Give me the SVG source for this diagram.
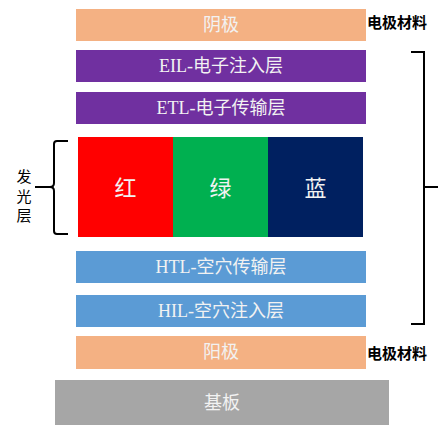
<svg xmlns="http://www.w3.org/2000/svg" width="438" height="425" viewBox="0 0 438 425">
<style>
.lt{font-family:"Liberation Serif","Noto Sans CJK SC",serif;font-size:18px;fill:#F2F2F2;text-anchor:middle;dominant-baseline:central}
.big{font-size:22px}
.side{font-family:"Noto Sans CJK SC",sans-serif;font-size:15px;font-weight:bold;fill:#000;dominant-baseline:central}
.vt{font-family:"Noto Sans CJK SC",sans-serif;font-size:15px;fill:#000;text-anchor:middle;dominant-baseline:central}
.br{fill:none;stroke:#000;stroke-width:2}
</style>
<rect width="438" height="425" fill="#fff"/>
<g id="cathode"><rect x="76" y="9" width="290" height="32" fill="#F4B183"/><text class="lt" x="221" y="25">阴极</text></g>
<g id="eil"><rect x="76" y="50" width="290" height="32" fill="#7030A0"/><text class="lt" x="221" y="66">EIL-电子注入层</text></g>
<g id="etl"><rect x="76" y="92" width="290" height="32" fill="#7030A0"/><text class="lt" x="221" y="108">ETL-电子传输层</text></g>
<g id="red"><rect x="78" y="137" width="95" height="100" fill="#FF0000"/><text class="lt big" x="125.5" y="188">红</text></g>
<g id="green"><rect x="173" y="137" width="95" height="100" fill="#00B050"/><text class="lt big" x="220.5" y="188">绿</text></g>
<g id="blue"><rect x="268" y="137" width="95" height="100" fill="#002060"/><text class="lt big" x="315.5" y="188">蓝</text></g>
<g id="htl"><rect x="76" y="251" width="290" height="32" fill="#5B9BD5"/><text class="lt" x="221" y="267">HTL-空穴传输层</text></g>
<g id="hil"><rect x="76" y="295" width="290" height="32" fill="#5B9BD5"/><text class="lt" x="221" y="311">HIL-空穴注入层</text></g>
<g id="anode"><rect x="76" y="336" width="290" height="33" fill="#F4B183"/><text class="lt" x="221" y="352">阳极</text></g>
<g id="substrate"><rect x="55" y="380" width="334" height="45" fill="#A6A6A6"/><text class="lt" x="222" y="403">基板</text></g>
<g id="label-top"><text class="side" x="367" y="21">电极材料</text></g>
<g id="label-bottom"><text class="side" x="367" y="352">电极材料</text></g>
<g id="label-emissive"><text class="vt" x="24" y="175">发</text><text class="vt" x="24" y="195">光</text><text class="vt" x="24" y="214">层</text></g>
<g id="connectors">
<path class="br" d="M68,141 H57 Q54,141 54,144 V183 Q54,187 50,187 H35 M50,187 Q54,187 54,191 V231 Q54,234 57,234 H68"/>
<path class="br" d="M411,52 H424 V324 H411 M424,187 H438"/>
</g>
</svg>
